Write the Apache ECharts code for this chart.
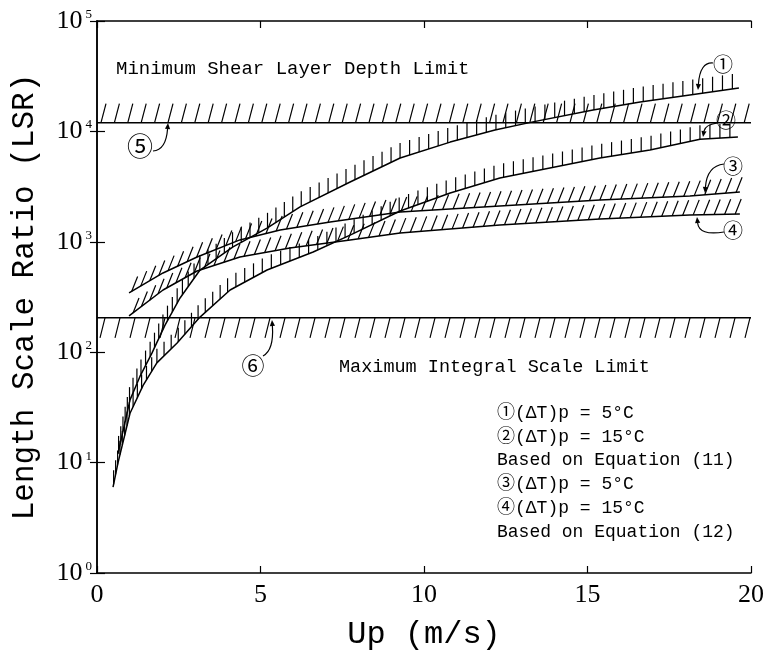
<!DOCTYPE html>
<html>
<head>
<meta charset="utf-8">
<script src="https://cdn.jsdelivr.net/npm/echarts@6/dist/echarts.min.js"></script>
<style>
  html, body { margin: 0; padding: 0; background: #fff; }
  #chart { width: 769px; height: 657px; }
</style>
</head>
<body>
<div id="chart"></div>
<script>
// Up (m/s) vs LSR
const up1 = [0.64, 1.01, 1.31, 1.68, 2.08, 2.54, 3.15, 4.16, 5.20, 6.21, 7.74, 9.27, 10.80, 12.17, 13.33, 15.17, 16.61, 18.13, 19.63];
const lsr1 = [12, 37, 60, 98, 176, 310, 555, 900, 1330, 2070, 3480, 5740, 8000, 10300, 12200, 15600, 18500, 21400, 24700];

const up2 = [0.49, 0.64, 1.01, 1.41, 1.83, 2.45, 3.15, 4.07, 5.20, 6.61, 7.74, 9.27, 10.80, 12.32, 13.85, 15.38, 16.91, 18.44, 19.60];
const lsr2 = [6.0, 9.9, 28, 50, 80, 121, 208, 366, 555, 808, 1150, 1900, 2770, 3790, 4660, 5740, 6790, 8500, 8900];

const up3 = [0.98, 2.02, 3.06, 4.37, 5.60, 7.13, 9.27, 12.32, 15.38, 18.13, 19.66];
const lsr3 = [344, 522, 728, 1040, 1280, 1510, 1860, 2110, 2390, 2600, 2830];

const up4 = [0.98, 2.02, 3.06, 4.37, 5.90, 7.74, 9.27, 12.32, 15.38, 18.13, 19.66];
const lsr4 = [213, 366, 544, 728, 879, 1040, 1200, 1420, 1610, 1750, 1790];

// horizontal limits
const limitUp = [0, 20];
const shearLimit = [12000, 12000];
const integralLimit = [205, 205];

const xTicks = [0, 5, 10, 15, 20];

const legendLines = [
    '①(ΔT)p = 5°C',
    '②(ΔT)p = 15°C',
    'Based on Equation (11)',
    '③(ΔT)p = 5°C',
    '④(ΔT)p = 15°C',
    'Based on Equation (12)'
];

const zip = (xs, ys) => xs.map((x, i) => [x, ys[i]]);

const c1 = zip(up1, lsr1);
const c2 = zip(up2, lsr2);
const c3 = zip(up3, lsr3);
const c4 = zip(up4, lsr4);
const shearPts = zip(limitUp, shearLimit);
const integralPts = zip(limitUp, integralLimit);

const monoFont = "'Liberation Mono', 'Noto Sans CJK JP', monospace";
const serifFont = "'Liberation Serif', serif";
const circledFont = "'Noto Sans CJK JP', sans-serif";

const lineSeries = (pts, width) => ({
    type: 'line',
    data: pts,
    showSymbol: false,
    silent: true,
    lineStyle: { color: '#000', width: width, join: 'round' },
    z: 5
});

// hatch marks walked along the curve in pixel space
const hatchSeries = (pts, step, offset, dx, dy) => ({
    type: 'custom',
    data: [pts[0]],
    silent: true,
    z: 4,
    renderItem: (params, api) => {
        const px = pts.map(p => api.coord(p));
        const children = [];
        let t = offset;
        for (let i = 0; i < px.length - 1; i++) {
            const a = px[i], b = px[i + 1];
            const len = Math.hypot(b[0] - a[0], b[1] - a[1]);
            while (t <= len) {
                const x = a[0] + (b[0] - a[0]) * t / len;
                const y = a[1] + (b[1] - a[1]) * t / len;
                children.push({
                    type: 'line',
                    shape: { x1: x, y1: y, x2: x + dx, y2: y + dy },
                    style: { stroke: '#000', lineWidth: 1.2 }
                });
                t += step;
            }
            t -= len;
        }
        return { type: 'group', children: children };
    }
});

const arrow = (x1, y1, cx, cy, x2, y2) => {
    const ang = Math.atan2(y2 - cy, x2 - cx);
    const s = 6, w = 2.6;
    const bx = x2 - s * Math.cos(ang), by = y2 - s * Math.sin(ang);
    return [
        {
            type: 'bezierCurve',
            shape: { x1: x1, y1: y1, cpx1: cx, cpy1: cy, x2: bx, y2: by },
            style: { stroke: '#000', lineWidth: 1.2, fill: null }
        },
        {
            type: 'polygon',
            shape: {
                points: [
                    [x2, y2],
                    [bx + w * Math.sin(ang), by - w * Math.cos(ang)],
                    [bx - w * Math.sin(ang), by + w * Math.cos(ang)]
                ]
            },
            style: { fill: '#000' }
        }
    ];
};

const callouts = [
    { text: '①', x: 723, y: 64, size: 20, a: [713, 63, 700, 62, 698, 90] },
    { text: '②', x: 726, y: 120, size: 20, a: [717, 123, 705, 125, 703, 137] },
    { text: '③', x: 733, y: 166, size: 20, a: [724, 164, 707, 166, 705, 193] },
    { text: '④', x: 733, y: 230, size: 20, a: [724, 232, 699, 236, 697, 217] },
    { text: '⑤', x: 140, y: 146, size: 26, a: [153, 151, 166, 150, 168, 123] },
    { text: '⑥', x: 253, y: 365, size: 23, a: [263, 356, 274, 350, 272, 320] }
];

const graphics = [];
callouts.forEach(c => {
    graphics.push({
        type: 'text', x: c.x, y: c.y, z: 10,
        style: { text: c.text, font: c.size + 'px ' + circledFont, fill: '#000', align: 'center', verticalAlign: 'middle' }
    });
    arrow(...c.a).forEach(el => graphics.push(Object.assign({ z: 10 }, el)));
});

graphics.push({
    type: 'text', x: 116, y: 69, z: 10,
    style: { text: 'Minimum Shear Layer Depth Limit', font: '19px ' + monoFont, fill: '#000', verticalAlign: 'middle' }
});
graphics.push({
    type: 'text', x: 339, y: 367, z: 10,
    style: { text: 'Maximum Integral Scale Limit', font: '18.5px ' + monoFont, fill: '#000', verticalAlign: 'middle' }
});
legendLines.forEach((t, i) => {
    graphics.push({
        type: 'text', x: 497, y: 413 + i * 23.8, z: 10,
        style: { text: t, font: '18px ' + monoFont, fill: '#000', verticalAlign: 'middle' }
    });
});

const chart = echarts.init(document.getElementById('chart'));

chart.setOption({
    backgroundColor: '#fff',
    animation: false,
    grid: { left: 97, right: 18, top: 21, bottom: 84, outerBoundsMode: 'none' },
    xAxis: [
        {
            type: 'value',
            min: xTicks[0],
            max: xTicks[xTicks.length - 1],
            interval: 5,
            name: 'Up (m/s)',
            nameLocation: 'middle',
            nameGap: 46,
            nameTextStyle: { fontFamily: monoFont, fontSize: 32, color: '#000' },
            axisLine: { lineStyle: { color: '#000', width: 1.5 } },
            axisTick: { inside: true, length: 7, lineStyle: { color: '#000', width: 1.2 } },
            axisLabel: { color: '#000', fontFamily: serifFont, fontSize: 26, margin: 9 },
            splitLine: { show: false }
        },
        {
            type: 'value',
            position: 'top',
            min: xTicks[0],
            max: xTicks[xTicks.length - 1],
            interval: 5,
            axisLine: { lineStyle: { color: '#000', width: 1.5 } },
            axisTick: { inside: true, length: 7, lineStyle: { color: '#000', width: 1.2 } },
            axisLabel: { show: false },
            splitLine: { show: false }
        }
    ],
    yAxis: [
        {
            type: 'log',
            logBase: 10,
            min: 1,
            max: 100000,
            name: 'Length Scale Ratio (LSR)',
            nameLocation: 'middle',
            nameGap: 57,
            nameRotate: 90,
            nameTextStyle: { fontFamily: monoFont, fontSize: 31, color: '#000' },
            axisLine: { show: true, lineStyle: { color: '#000', width: 1.5 } },
            axisTick: { show: true, inside: true, length: 8, lineStyle: { color: '#000', width: 1.2 } },
            axisLabel: {
                margin: 5,
                formatter: (v) => '{b|10}{e|' + Math.round(Math.log10(v)) + '}',
                rich: {
                    b: { fontFamily: serifFont, fontSize: 26, color: '#000', lineHeight: 26 },
                    e: { fontFamily: serifFont, fontSize: 13, color: '#000', verticalAlign: 'top', lineHeight: 13, padding: [0, 0, 0, 3] }
                }
            },
            splitLine: { show: false }
        },
        {
            type: 'log',
            logBase: 10,
            min: 1,
            max: 100000,
            position: 'right',
            axisLine: { show: true, lineStyle: { color: '#000', width: 1.5 } },
            axisTick: { show: true, inside: true, length: 7, lineStyle: { color: '#000', width: 1.2 } },
            axisLabel: { show: false },
            splitLine: { show: false }
        }
    ],
    series: [
        lineSeries(shearPts, 1.5),
        lineSeries(integralPts, 1.5),
        hatchSeries(shearPts, 13.4, 4, 5, -19),
        hatchSeries(integralPts, 15, 8, -5, 20),
        lineSeries(c1, 1.5),
        lineSeries(c2, 1.5),
        lineSeries(c3, 1.5),
        lineSeries(c4, 1.5),
        hatchSeries(c1, 10, 3, 0, -15),
        hatchSeries(c2, 10, 3, 0, -14),
        hatchSeries(c3, 10.5, 3, 6, -15),
        hatchSeries(c4, 10.5, 5, 6, -15)
    ],
    graphic: graphics
});
</script>
</body>
</html>
